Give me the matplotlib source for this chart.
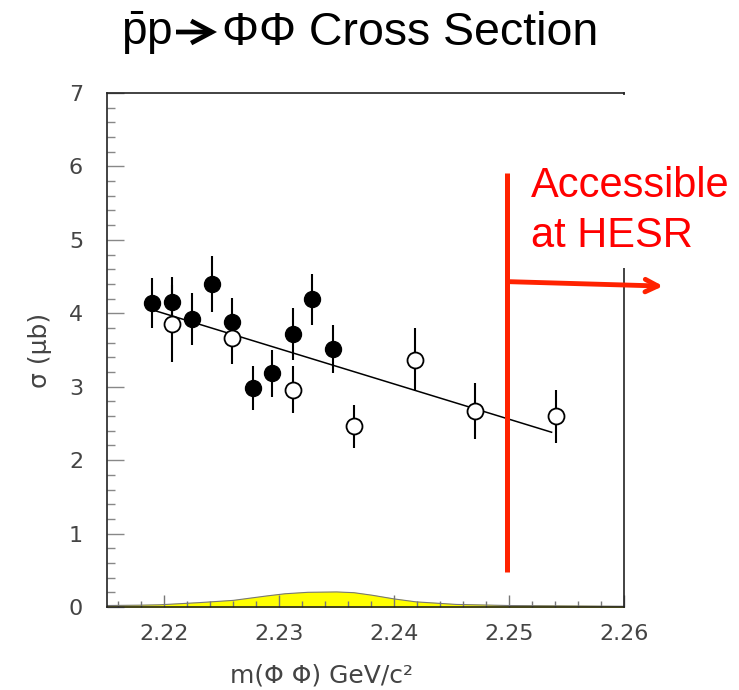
import matplotlib
matplotlib.use("Agg")
import matplotlib.pyplot as plt
from matplotlib.ticker import MultipleLocator, FixedLocator
from matplotlib.patches import Rectangle, FancyArrowPatch

plt.rcParams['mathtext.fontset'] = 'custom'
plt.rcParams['mathtext.rm'] = 'Liberation Sans'

# ---- data ----
filled_x = [2.2189, 2.2207, 2.2224, 2.2242, 2.2259, 2.2277, 2.2294, 2.2312, 2.2329, 2.2347]
filled_y = [4.14, 4.15, 3.92, 4.40, 3.88, 2.98, 3.18, 3.72, 4.19, 3.51]
filled_err = [0.34, 0.35, 0.35, 0.38, 0.33, 0.30, 0.32, 0.35, 0.35, 0.33]

open_x = [2.2207, 2.2259, 2.2312, 2.2365, 2.2418, 2.2470, 2.2541]
open_y = [3.86, 3.66, 2.96, 2.46, 3.37, 2.67, 2.60]
open_err = [0.53, 0.35, 0.32, 0.29, 0.43, 0.38, 0.36]

fit_x = [2.2189, 2.2537]
fit_y = [4.05, 2.38]

band_x = [2.215, 2.218, 2.2196, 2.2231, 2.226, 2.2289, 2.2305, 2.2325, 2.235,
          2.2365, 2.2381, 2.240, 2.2419, 2.2454, 2.250, 2.255, 2.260]
band_y = [0.02, 0.025, 0.03, 0.06, 0.09, 0.15, 0.18, 0.20, 0.205,
          0.195, 0.16, 0.11, 0.07, 0.035, 0.02, 0.015, 0.01]

hesr_x = 2.2498
hesr_y = [0.48, 5.91]
arrow_start = (2.2501, 4.43)
arrow_end = (2.2634, 4.37)

xticks = [2.22, 2.23, 2.24, 2.25, 2.26]
yticks = [0, 1, 2, 3, 4, 5, 6, 7]

# ---- figure ----
W, H = 739, 690
fig = plt.figure(figsize=(W / 100, H / 100), dpi=100)
ax = fig.add_axes([106.7 / W, (H - 607) / H, (624 - 106.7) / W, (607 - 93) / H])

ax.fill_between(band_x, band_y, 0, color='#ffff00', zorder=1)
ax.plot(band_x, band_y, color='#777777', lw=0.8, zorder=1.1)

ax.plot(fit_x, fit_y, color='black', lw=1.1, zorder=2)

ax.errorbar(filled_x, filled_y, yerr=filled_err, fmt='o', color='black',
            ms=11.5, elinewidth=1.5, capsize=0, zorder=3)
ax.errorbar(open_x, open_y, yerr=open_err, fmt='o', color='black', mfc='white',
            mec='black', mew=1.3, ms=11.5, elinewidth=1.5, capsize=0, zorder=3)

ax.set_xlim(2.215, 2.26)
ax.set_ylim(0, 7)
ax.xaxis.set_major_locator(FixedLocator(xticks))
ax.xaxis.set_minor_locator(MultipleLocator(0.002))
ax.yaxis.set_major_locator(FixedLocator(yticks))
ax.yaxis.set_minor_locator(MultipleLocator(0.2))
ax.set_xticklabels(['%.2f' % v for v in xticks])
ax.set_yticklabels([str(v) for v in yticks])

ax.tick_params(axis='x', which='major', direction='in', length=9, width=1.0,
               color='#777777', labelsize=16, labelcolor='#444444', pad=12)
ax.tick_params(axis='x', which='minor', direction='in', length=4, width=1.0, color='#777777')
ax.tick_params(axis='y', which='major', direction='in', length=12, width=1.0,
               color='#888888', labelsize=16, labelcolor='#444444', pad=17)
ax.tick_params(axis='y', which='minor', direction='in', length=6, width=1.0, color='#888888')
for s in ax.spines.values():
    s.set_linewidth(1.2)
    s.set_color('#222222')

ax.set_xlabel('m(Φ Φ) GeV/c²', fontsize=18, color='#444444')
ax.xaxis.set_label_coords(0.416, -0.11)
ax.set_ylabel('σ (μb)', fontsize=18, color='#444444')
ax.yaxis.set_label_coords(-0.105, 0.5)

# red annotation line
ax.plot([hesr_x, hesr_x], hesr_y, color='#ff2200', lw=3.6, solid_capstyle='butt', zorder=4)
ax.annotate('', xy=arrow_end, xytext=arrow_start, xycoords='data',
            annotation_clip=False,
            arrowprops=dict(arrowstyle='->,head_length=0.9,head_width=0.45',
                            color='#ff2200', lw=3.5, shrinkA=0, shrinkB=0),
            zorder=5)

# white box behind text (covers right frame)
fig.patches.append(Rectangle((530 / W, (H - 268) / H), (W - 530) / W, (268 - 95) / H,
                             transform=fig.transFigure, facecolor='white',
                             edgecolor='none', zorder=1))
fig.text(531 / W, (H - 197) / H, 'Accessible', color='#ff0000', fontsize=30,
         family=['Liberation Sans', 'DejaVu Sans'], ha='left', va='baseline', zorder=2)
fig.text(531 / W, (H - 247) / H, 'at HESR', color='#ff0000', fontsize=30,
         family=['Liberation Sans', 'DejaVu Sans'], ha='left', va='baseline', zorder=2)

# title in pieces: p̄p, thick arrow, ΦΦ Cross Section
fig.text(121 / W, (H - 45) / H, r'$\bar{\mathrm{p}}$p', fontsize=33,
         family=['Liberation Sans', 'DejaVu Sans'], ha='left', va='baseline', color='black')
fig.patches.append(FancyArrowPatch((176 / W, (H - 32) / H), (217 / W, (H - 32) / H),
                                   transform=fig.transFigure,
                                   arrowstyle='->,head_length=0.75,head_width=0.4',
                                   mutation_scale=20,
                                   color='black', lw=3.4, shrinkA=0, shrinkB=0,
                                   joinstyle='miter', capstyle='butt', zorder=2))
fig.text(222 / W, (H - 45) / H, 'ΦΦ Cross Section', fontsize=33.5,
         family=['Liberation Sans', 'DejaVu Sans'], ha='left', va='baseline', color='black')

fig.savefig('out.png', dpi=100)
